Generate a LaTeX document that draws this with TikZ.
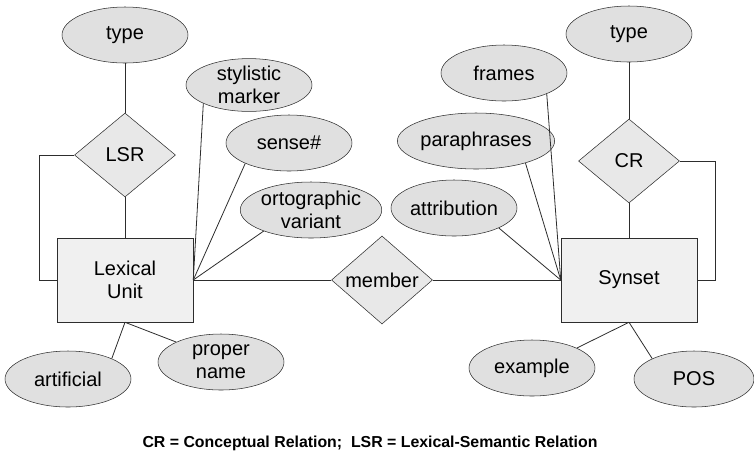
\documentclass[tikz,border=0pt]{standalone}
\usepackage{fontspec}
\setmainfont{Liberation Sans}
\usetikzlibrary{shapes.geometric,positioning}
\definecolor{attrgray}{RGB}{224,224,224}
\definecolor{relgray}{RGB}{232,232,232}
\definecolor{entgray}{RGB}{240,240,240}
\definecolor{linegray}{RGB}{45,45,45}

\begin{document}
\begin{tikzpicture}[
    x=0.75pt, y=-0.75pt,
    attr/.style={draw=linegray, ellipse, fill=attrgray, inner sep=0pt,
        minimum width=94.5pt, minimum height=42pt, align=center,
        font=\fontsize{15}{17}\selectfont},
    rel/.style={draw=linegray, diamond, fill=relgray, inner sep=0pt,
        minimum width=75.75pt, minimum height=63pt,
        font=\fontsize{15}{17}\selectfont},
    entity/.style={draw=linegray, rectangle, fill=entgray, inner sep=0pt,
        minimum width=102pt, minimum height=63pt, align=center,
        font=\fontsize{15}{17.5}\selectfont},
    link/.style={draw=linegray, line width=0.6pt}
]
\useasboundingbox (0,0) rectangle (754,455);

% Entities and relations
\node[entity] (lu) at (125,280) {Lexical\\Unit};
\node[entity] (syn) at (629,280) {Synset};
\node[rel] (member) at (382,280) {member};
\node[rel] (lsr) at (125,155) {LSR};
\node[rel] (cr) at (629,161) {CR};

% Attributes
\node[attr] (ltype) at (125,35) {type};
\node[attr] (rtype) at (629,34) {type};
\node[attr, minimum height=33pt] (stylm) at (249,85) {stylistic\\marker};
\node[attr] (sense) at (289,143) {sense\#};
\node[attr] (orto) at (311,210) {ortographic\\variant};
\node[attr] (artif) at (68,379) {artificial};
\node[attr] (propn) at (221,362) {proper\\name};
\node[attr] (frames) at (504,73) {frames};
\node[attr] (para) at (476,141) {paraphrases};
\node[attr] (attrib) at (454,208) {attribution};
\node[attr] (exmpl) at (532,368) {example};
\node[attr, minimum width=90pt] (pos) at (694,379) {POS};

% Connections
\draw[link] (ltype) -- (lsr);
\draw[link] (lsr) -- (lu);
\draw[link] (lsr.west) -| (39,280) -- (lu.west);
\draw[link] (rtype) -- (cr);
\draw[link] (cr) -- (syn);
\draw[link] (cr.east) -| (715,280) -- (syn.east);
\draw[link] (lu.east) -- (member.west);
\draw[link] (member.east) -- (syn.west);
\draw[link] (lu.east) -- (stylm.202);
\draw[link] (lu.east) -- (sense.205);
\draw[link] (lu.east) -- (orto.204);
\draw[link] (lu.south) -- (artif.25);
\draw[link] (lu.south) -- (propn.156);
\draw[link] (syn.west) -- (frames.334);
\draw[link] (syn.west) -- (para.336);
\draw[link] (syn.west) -- (attrib.336);
\draw[link] (syn.south) -- (exmpl.24);
\draw[link] (syn.south) -- (pos.154);

\node[font=\bfseries\fontsize{11.9}{14}\selectfont] (legend) at (370,443)
    {CR = Conceptual Relation;\ \ LSR = Lexical-Semantic Relation};
\end{tikzpicture}
\end{document}
